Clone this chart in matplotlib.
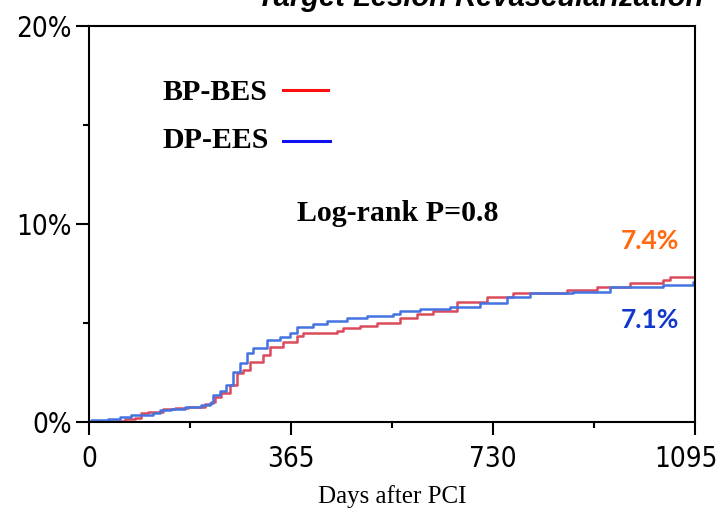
import numpy as np
import matplotlib
matplotlib.use("Agg")
import matplotlib.pyplot as plt
from matplotlib.ticker import FixedLocator, FuncFormatter
from matplotlib.transforms import ScaledTranslation

# cumulative incidence (days, percent)
bp_days = [0, 11, 65, 83, 94, 107, 134, 155, 179, 210, 220, 228, 239, 255,
           267, 278, 291, 314, 327, 351, 376, 387, 448, 459, 490, 520, 562,
           593, 622, 665, 719, 766, 864, 918, 978, 1037, 1050, 1095]
bp_pct = [0, 0.07, 0.14, 0.19, 0.44, 0.52, 0.64, 0.69, 0.77, 0.91, 1.02,
          1.28, 1.45, 1.87, 2.47, 2.62, 3.03, 3.38, 3.78, 4.03, 4.34, 4.49,
          4.59, 4.74, 4.84, 4.99, 5.24, 5.45, 5.60, 6.05, 6.30, 6.51, 6.66,
          6.81, 7.01, 7.16, 7.31, 7.31]

dp_days = [0, 4, 34, 56, 76, 116, 128, 148, 173, 202, 219, 224, 237, 248,
           260, 273, 286, 296, 322, 345, 363, 376, 405, 430, 466, 502, 549,
           562, 598, 652, 707, 755, 797, 875, 941, 1037, 1091, 1095]
dp_pct = [0, 0.08, 0.14, 0.24, 0.35, 0.44, 0.61, 0.67, 0.74, 0.84, 0.97,
          1.36, 1.56, 1.87, 2.52, 2.98, 3.48, 3.73, 4.14, 4.29, 4.49, 4.79,
          4.94, 5.09, 5.24, 5.35, 5.45, 5.60, 5.70, 5.80, 6.00, 6.30, 6.51,
          6.56, 6.81, 6.91, 7.08, 7.08]

x_major = [0, 365, 730, 1095]
x_minor = [182.5, 547.5, 912.5]
y_major = [0, 10, 20]
y_minor = [5, 15]

arm_names = ["BP-BES", "DP-EES"]
final_labels = ["7.4%", "7.1%"]
pvalue_text = "Log-rank P=0.8"

fig = plt.figure(figsize=(7.21, 5.11), dpi=100)
ax = fig.add_axes([0.1234, 0.1742, 0.8406, 0.7758])

ax.step(bp_days, bp_pct, where="post", color="#DC4B5C", lw=1.8)
ax.step(dp_days, dp_pct, where="post", color="#4473E2", lw=1.8)

ax.set_xlim(0, 1095)
ax.set_ylim(0, 20)

ax.xaxis.set_major_locator(FixedLocator(x_major))
ax.xaxis.set_minor_locator(FixedLocator(x_minor))
ax.yaxis.set_major_locator(FixedLocator(y_major))
ax.yaxis.set_minor_locator(FixedLocator(y_minor))
ax.yaxis.set_major_formatter(FuncFormatter(lambda v, p: "%d%%" % v))

ax.tick_params(which="major", length=9.5, width=1.5, direction="out")
ax.tick_params(which="minor", length=4.5, width=1.5, direction="out")
ax.tick_params(axis="x", which="major", labelsize=20, pad=7)
ax.tick_params(axis="y", which="major", labelsize=20, pad=3)
for lab in ax.get_xticklabels() + ax.get_yticklabels():
    lab.set_family("DejaVu Sans")
    lab.set_fontstretch("condensed")

# the last day label sits a little left of its tick, as in the original
last = ax.xaxis.get_major_ticks()[-1].label1
last.set_transform(last.get_transform()
                   + ScaledTranslation(-0.09, 0, fig.dpi_scale_trans))

for s in ax.spines.values():
    s.set_linewidth(1.5)

ax.set_xlabel("Days after PCI", family="Liberation Serif", fontsize=18,
              labelpad=9)

# legend drawn by hand, labels left of the line samples
serif_bold = dict(family="Liberation Serif", fontweight="bold", fontsize=21.5)
ax.text(0.122, 0.830, arm_names[0], transform=ax.transAxes, va="center",
        **serif_bold)
ax.text(0.122, 0.709, arm_names[1], transform=ax.transAxes, va="center",
        **serif_bold)
ax.plot([0.320, 0.394], [0.837, 0.837], transform=ax.transAxes,
        color="#FF1010", lw=2.2)
ax.plot([0.320, 0.398], [0.710, 0.710], transform=ax.transAxes,
        color="#1010F0", lw=2.2)

ax.text(0.509, 0.527, pvalue_text, transform=ax.transAxes, ha="center",
        va="center", **serif_bold)

ax.text(0.926, 0.456, final_labels[0], transform=ax.transAxes, ha="center",
        va="center", color="#FF6A10", family="Lato", fontweight="bold",
        fontsize=19)
ax.text(0.926, 0.257, final_labels[1], transform=ax.transAxes, ha="center",
        va="center", color="#1038CC", family="Lato", fontweight="bold",
        fontsize=19)

# title is cut off by the top edge in the original
fig.text(0.666, 0.988, "Target Lesion Revascularization", ha="center",
         va="baseline", family="Liberation Sans", fontweight="bold",
         style="italic", fontsize=21)

fig.savefig("out.png", dpi=100)
